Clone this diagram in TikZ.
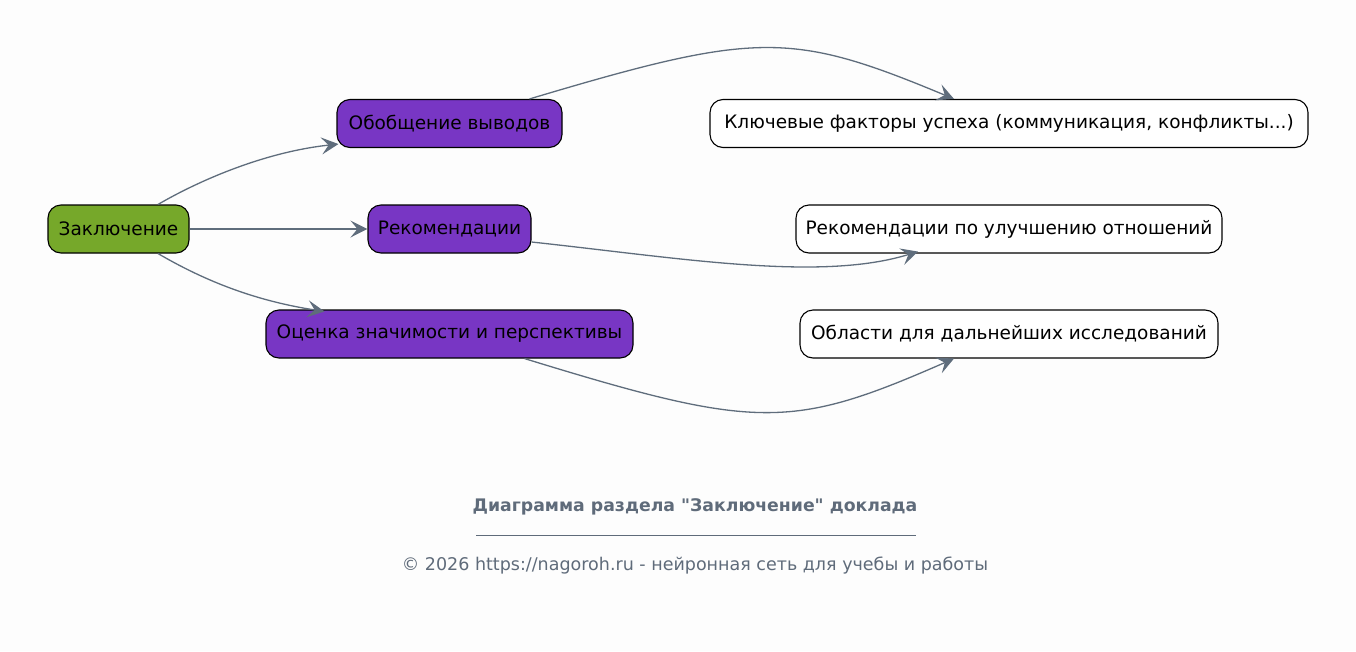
\documentclass[tikz,border=0pt]{standalone}
\usepackage{fontspec}
\setmainfont{DejaVu Sans}[Ligatures=TeXOff]
\usetikzlibrary{arrows.meta,calc}
\definecolor{bg}{HTML}{FDFDFD}
\definecolor{greenfill}{HTML}{76A82A}
\definecolor{purplefill}{HTML}{7836C4}
\definecolor{edgecol}{HTML}{5F6D7C}
\definecolor{captcol}{HTML}{5F6B7A}
\begin{document}
\begin{tikzpicture}[x=1pt,y=-1pt,
  box/.style={draw=black, line width=1.1pt, rounded corners=13pt, minimum height=48pt,
    inner sep=0pt, font=\fontsize{18.5}{22}\selectfont, text=black},
  rootbox/.style={box, fill=greenfill},
  midbox/.style={box, fill=purplefill},
  leafbox/.style={box, fill=white},
  conn/.style={draw=edgecol, line width=1.3pt,
    -{Stealth[length=17pt,width=17pt,inset=7pt]}},
  capt/.style={text=captcol, font=\fontsize{17.5}{20}\selectfont}
]
\fill[bg] (0,0) rectangle (1356,651);
\useasboundingbox (0,0) rectangle (1356,651);

\node[rootbox, minimum width=141pt] (zakl) at (118.5,229) {Заключение};
\node[midbox, minimum width=225pt] (obob) at (449.5,123.5) {Обобщение выводов};
\node[midbox, minimum width=163pt] (rek) at (449.5,229) {Рекомендации};
\node[midbox, minimum width=367pt] (ocen) at (449.5,334) {Оценка значимости и перспективы};
\node[leafbox, minimum width=598pt] (kl) at (1009,123.5) {Ключевые факторы успеха (коммуникация, конфликты...)};
\node[leafbox, minimum width=426pt] (rekul) at (1009,229) {Рекомендации по улучшению отношений};
\node[leafbox, minimum width=418pt] (obl) at (1009,334) {Области для дальнейших исследований};

\draw[conn] ([xshift=39.5pt]zakl.north) .. controls (200,180) and (265,152) .. ([yshift=4pt,xshift=2pt]obob.south west);
\draw[conn] (zakl.east) -- (rek.west);
\draw[conn] ([xshift=39.5pt]zakl.south) .. controls (200,278) and (250,300) .. ([xshift=-125pt,yshift=-2pt]ocen.north);
\draw[conn] ([xshift=80pt]obob.north) .. controls (757,31) and (791,31) .. ([xshift=-55pt]kl.north);
\draw[conn] ([yshift=-13pt]rek.east) .. controls (680,258) and (820,282) .. ([xshift=-91pt,yshift=2pt]rekul.south);
\draw[conn] ([xshift=75pt]ocen.south) .. controls (757,430) and (791,430) .. ([xshift=-55pt]obl.south);

\node[capt, font=\fontsize{17.3}{20}\selectfont\bfseries] (title) at (695,507) {Диаграмма раздела "Заключение" доклада};
\node[capt] (rule) at (696,535) {\rule{440pt}{0.6pt}};
\node[capt] (copy) at (695,566) {© 2026 https://nagoroh.ru - нейронная сеть для учебы и работы};
\end{tikzpicture}
\end{document}
